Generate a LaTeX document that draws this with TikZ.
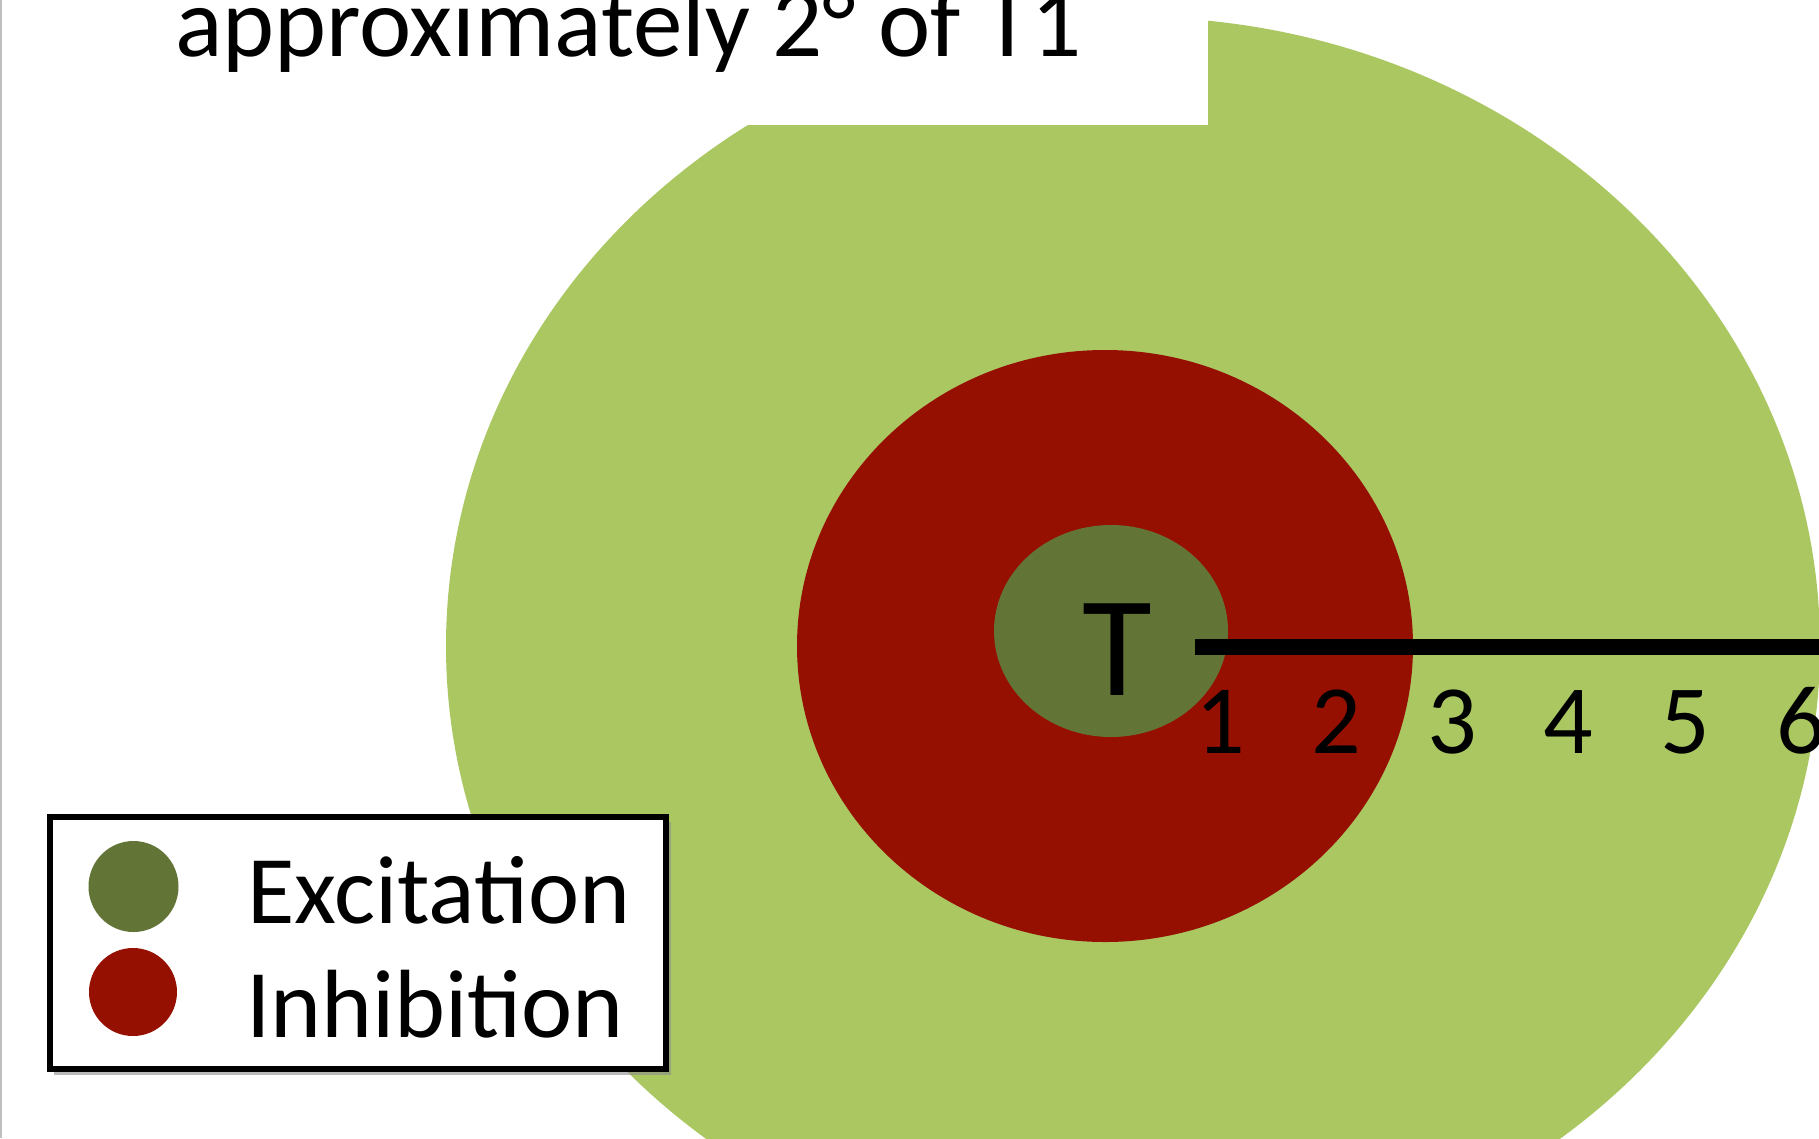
\documentclass[tikz,border=0pt]{standalone}
\usepackage{fontspec}
\setmainfont{Carlito}
\definecolor{lightgreen}{RGB}{171,199,98}
\definecolor{darkgreen}{RGB}{98,117,55}
\definecolor{inhred}{RGB}{149,16,0}
\tikzset{
  bigtext/.style={inner sep=0pt, font=\fontsize{97}{116}\selectfont},
  titletext/.style={inner sep=0pt, font=\fontsize{99}{118}\selectfont},
  digit/.style={inner sep=0pt, anchor=base, font=\fontsize{98}{118}\selectfont},
}
\begin{document}
\begin{tikzpicture}[x=1pt,y=-1pt]
\useasboundingbox (0,0) rectangle (1819,1138);
\clip (0,0) rectangle (1819,1138);
\fill[white] (0,0) rectangle (1819,1138);
% receptive field zones
\fill[lightgreen] (1133,646) ellipse [x radius=687, y radius=629];
\fill[white] (0,0) rectangle (1208,125);
\fill[inhred] (1105,646) ellipse [x radius=308, y radius=296];
\fill[darkgreen] (1111,631) ellipse [x radius=117, y radius=106];
% scale bar
\coordinate (barL) at (1195,647);
\coordinate (barR) at (1819,647);
\draw[line width=16pt, black] (barL) -- (barR);
\node[inner sep=0pt, anchor=base, font=\fontsize{143}{170}\selectfont] (T) at (1117,695) {T};
\foreach \d/\x in {1/1220,2/1336,3/1452,4/1568,5/1685,6/1801}
  \node[digit] (d\d) at (\x,753) {\d};
% title
\node[titletext, anchor=base west] (title) at (175,56) {approximately 2° of T1};
% left edge line
\draw[black!25, line width=2pt] (1,0) -- (1,1138);
% legend
\fill[black!45, opacity=0.6] (54,822) rectangle (671,1075);
\draw[line width=6pt, fill=white] (50,817) rectangle (666,1069);
\fill[darkgreen] (133.5,886.5) ellipse [x radius=45, y radius=45.5];
\fill[inhred] (133,992) ellipse [x radius=44, y radius=44];
\node[bigtext, anchor=base west] (exc) at (247,923) {Excitation};
\node[bigtext, anchor=base west] (inh) at (246,1037) {Inhibition};
\end{tikzpicture}
\end{document}
